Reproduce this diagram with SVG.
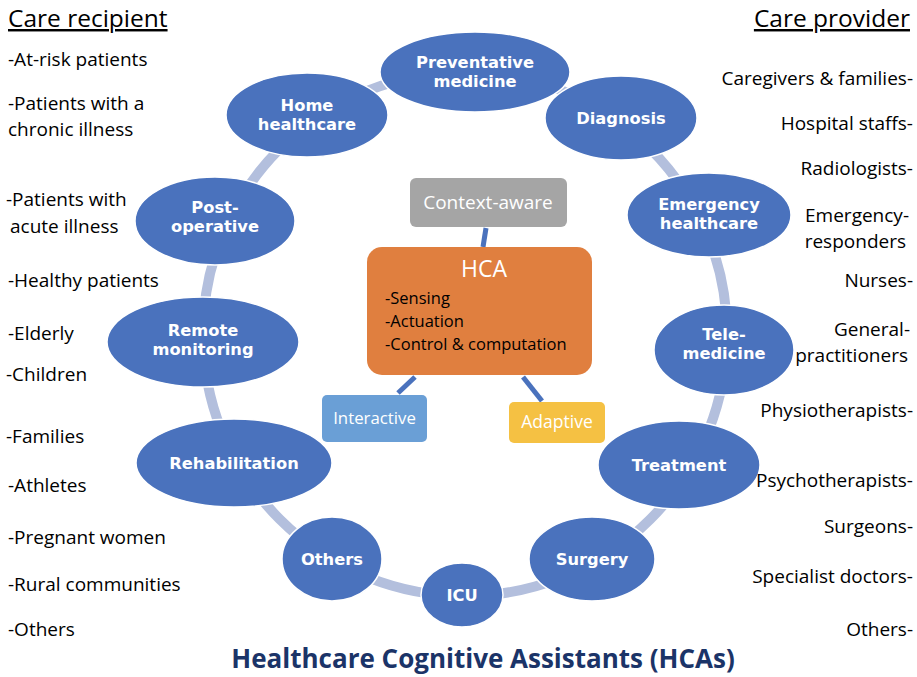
<svg xmlns="http://www.w3.org/2000/svg" width="917" height="677" viewBox="0 0 917 677">
<style>
.node ellipse{fill:#4a72bd;stroke:#ffffff;stroke-width:1.5}
.nt{font-family:"DejaVu Sans",Verdana,sans-serif;font-weight:bold;font-size:16.3px;fill:#ffffff;text-anchor:middle}
.side{font-family:"Open Sans","Noto Sans",sans-serif;font-size:19px;fill:#000000}
.r{text-anchor:end}
.hd{font-family:"Open Sans","Noto Sans",sans-serif;font-size:24.5px;fill:#000000;text-decoration:underline}
.ring{fill:none;stroke:#b3bfdd;stroke-width:10}
.link{stroke:#4a72bd;stroke-width:5}
.box{font-family:"Open Sans","Noto Sans",sans-serif;fill:#ffffff;text-anchor:middle}
</style>
<rect width="917" height="677" fill="#ffffff"/>
<g id="connectors">
<circle class="ring" cx="465" cy="334" r="262"/>
<line class="link" x1="486" y1="228" x2="483" y2="247"/>
<line class="link" x1="415" y1="377" x2="398" y2="393"/>
<line class="link" x1="523" y1="377" x2="542" y2="401"/>
</g>
<g id="n-preventative" class="node"><ellipse cx="475" cy="72" rx="95" ry="40"/><text class="nt" x="475" y="68">Preventative</text><text class="nt" x="475" y="87">medicine</text></g>
<g id="n-home" class="node"><ellipse cx="307" cy="115" rx="81" ry="42"/><text class="nt" x="307" y="111">Home</text><text class="nt" x="307" y="130">healthcare</text></g>
<g id="n-diagnosis" class="node"><ellipse cx="621" cy="118" rx="76" ry="42"/><text class="nt" x="621" y="124">Diagnosis</text></g>
<g id="n-emergency" class="node"><ellipse cx="709" cy="215" rx="82" ry="42"/><text class="nt" x="709" y="210">Emergency</text><text class="nt" x="709" y="229">healthcare</text></g>
<g id="n-postop" class="node"><ellipse cx="215" cy="221" rx="80" ry="44"/><text class="nt" x="215" y="213">Post-</text><text class="nt" x="215" y="232">operative</text></g>
<g id="n-remote" class="node"><ellipse cx="203" cy="342" rx="96" ry="45"/><text class="nt" x="203" y="336">Remote</text><text class="nt" x="203" y="355">monitoring</text></g>
<g id="n-tele" class="node"><ellipse cx="724" cy="350" rx="70" ry="45"/><text class="nt" x="724" y="340">Tele-</text><text class="nt" x="724" y="359">medicine</text></g>
<g id="n-rehab" class="node"><ellipse cx="234" cy="463" rx="98" ry="44"/><text class="nt" x="234" y="469">Rehabilitation</text></g>
<g id="n-treatment" class="node"><ellipse cx="679" cy="465" rx="81" ry="44"/><text class="nt" x="679" y="471">Treatment</text></g>
<g id="n-others" class="node"><ellipse cx="332" cy="559" rx="50" ry="42"/><text class="nt" x="332" y="565">Others</text></g>
<g id="n-icu" class="node"><ellipse cx="462" cy="595" rx="41" ry="32"/><text class="nt" x="462" y="601">ICU</text></g>
<g id="n-surgery" class="node"><ellipse cx="592" cy="559" rx="63" ry="42"/><text class="nt" x="592" y="565">Surgery</text></g>
<g id="n-context">
<rect x="410" y="178" width="157" height="49" rx="6" fill="#a5a5a5"/>
<text class="box" x="488" y="209" font-size="19">Context-aware</text>
</g>
<g id="n-hca">
<rect x="367" y="247" width="225" height="128" rx="15" fill="#e07f3f"/>
<text class="box" x="484" y="277" font-size="23">HCA</text>
<text font-family="'Open Sans','Noto Sans',sans-serif" font-size="16.5" fill="#000000"><tspan x="385" y="304">-Sensing</tspan><tspan x="385" y="327">-Actuation</tspan><tspan x="385" y="350">-Control &amp; computation</tspan></text>
</g>
<g id="n-interactive">
<rect x="322" y="395" width="105" height="47" rx="5" fill="#6a9fd6"/>
<text class="box" x="374.5" y="424" font-size="16.8">Interactive</text>
</g>
<g id="n-adaptive">
<rect x="509" y="402" width="96" height="41" rx="5" fill="#f5c143"/>
<text class="box" x="557" y="428" font-size="17.5">Adaptive</text>
</g>
<g id="recipients">
<text class="hd" x="8" y="27">Care recipient</text>
<text class="side" x="8" y="66">-At-risk patients</text>
<text class="side" x="8" y="110">-Patients with a</text>
<text class="side" x="8" y="136">chronic illness</text>
<text class="side" x="6" y="206">-Patients with</text>
<text class="side" x="10" y="233">acute illness</text>
<text class="side" x="8" y="287">-Healthy patients</text>
<text class="side" x="8" y="340">-Elderly</text>
<text class="side" x="6" y="381">-Children</text>
<text class="side" x="6" y="443">-Families</text>
<text class="side" x="8" y="492">-Athletes</text>
<text class="side" x="8" y="544">-Pregnant women</text>
<text class="side" x="8" y="591">-Rural communities</text>
<text class="side" x="8" y="636">-Others</text>
</g>
<g id="providers">
<text class="hd r" x="910" y="27">Care provider</text>
<text class="side r" x="913" y="85">Caregivers &amp; families-</text>
<text class="side r" x="913" y="130">Hospital staffs-</text>
<text class="side r" x="913" y="175">Radiologists-</text>
<text class="side r" x="909" y="222">Emergency-</text>
<text class="side r" x="906" y="248">responders</text>
<text class="side r" x="913" y="287">Nurses-</text>
<text class="side r" x="910" y="336">General-</text>
<text class="side r" x="908" y="362">practitioners</text>
<text class="side r" x="913" y="417">Physiotherapists-</text>
<text class="side r" x="913" y="487">Psychotherapists-</text>
<text class="side r" x="913" y="533">Surgeons-</text>
<text class="side r" x="913" y="583">Specialist doctors-</text>
<text class="side r" x="913" y="636">Others-</text>
</g>
<text id="title" x="483" y="668" text-anchor="middle" font-family="'Open Sans','Noto Sans',sans-serif" font-weight="bold" font-size="26" fill="#1b3468">Healthcare Cognitive Assistants (HCAs)</text>
</svg>
